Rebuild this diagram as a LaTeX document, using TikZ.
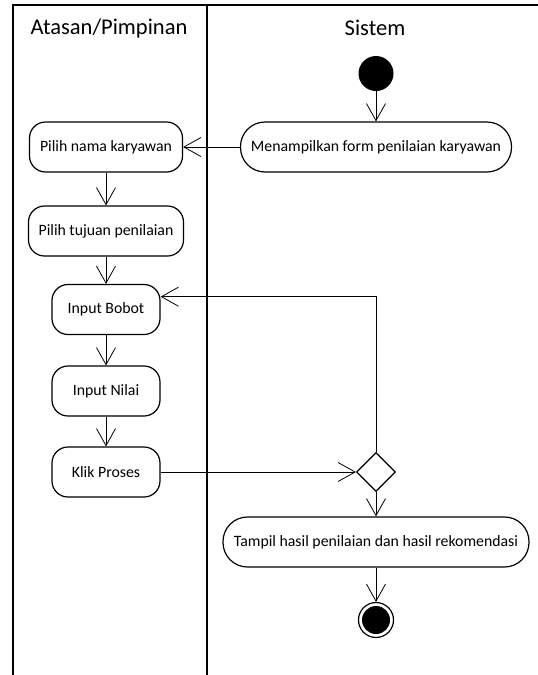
\documentclass[tikz,border=0pt]{standalone}
\usepackage{fontspec}
\setmainfont{Carlito}
\usetikzlibrary{arrows.meta,shapes.geometric}

\begin{document}
\begin{tikzpicture}[x=1pt,y=-1pt,
    act/.style={draw,line width=1.2pt,rounded corners=16pt,minimum height=50pt,inner sep=0pt,font=\fontsize{15.8}{18}\selectfont},
    sysact/.style={act,rounded corners=24.5pt},
    flow/.style={line width=0.8pt,-{Straight Barb[length=17pt,width=19pt,line width=0.8pt]}},
    lane/.style={line width=1.6pt},
    title/.style={font=\fontsize{22.5}{27}\selectfont}]
    \useasboundingbox (0,0) rectangle (538,675);
    \draw[lane] (13,676) -- (13,5) -- (540,5);
    \draw[lane] (207,5) -- (207,676);
    \node[title] (atasan) at (109,28) {Atasan/Pimpinan};
    \node[title] (sistem) at (375,28) {Sistem};

    \node[circle,fill,minimum size=35pt,inner sep=0pt] (start) at (376,73.5) {};
    \node[sysact,minimum width=271pt] (form) at (376,147) {Menampilkan form penilaian karyawan};
    \node[act,minimum width=153pt] (pilihnama) at (106,147) {Pilih nama karyawan};
    \node[act,minimum width=155pt] (tujuan) at (106,231) {Pilih tujuan penilaian};
    \node[act,minimum width=108pt] (bobot) at (106,309.5) {Input Bobot};
    \node[act,minimum width=108pt] (nilai) at (106,391) {Input Nilai};
    \node[act,minimum width=108pt] (klik) at (106,472) {Klik Proses};
    \node[diamond,draw,line width=1.2pt,minimum width=39pt,minimum height=39pt,inner sep=0pt] (cek) at (376,472) {};
    \node[sysact,minimum width=306pt] (tampil) at (376,542) {Tampil hasil penilaian dan hasil rekomendasi};
    \node[circle,draw,line width=1.2pt,minimum size=35pt,inner sep=0pt] (end) at (376,620) {};
    \fill (end) circle (14pt);

    \draw[flow] (start) -- (form);
    \draw[flow] (form) -- (pilihnama);
    \draw[flow] (pilihnama) -- (tujuan);
    \draw[flow] (tujuan) -- (bobot);
    \draw[flow] (bobot) -- (nilai);
    \draw[flow] (nilai) -- (klik);
    \draw[flow] (klik) -- (cek);
    \draw[flow] (cek.north) |- ([yshift=12.8pt]bobot.east);
    \draw[flow] (cek) -- (tampil);
    \draw[flow] (tampil) -- (end);
\end{tikzpicture}
\end{document}
